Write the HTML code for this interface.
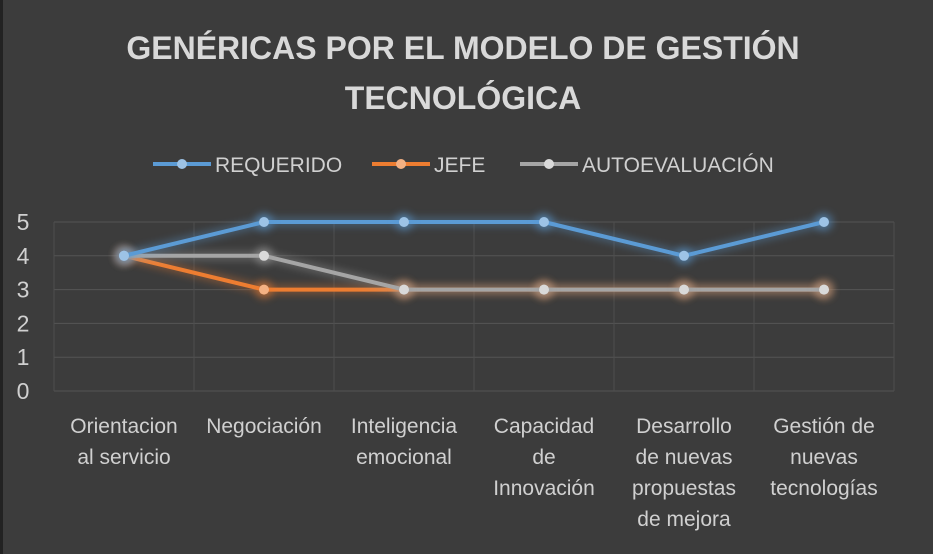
<!DOCTYPE html>
<html><head><meta charset="utf-8"><style>
html,body{margin:0;padding:0;background:#3b3b3b;}
svg{display:block;font-family:"Liberation Sans",sans-serif;}
</style></head><body>
<svg id="chart" width="933" height="554" viewBox="0 0 933 554">
<defs>
<filter id="glow" x="-50%" y="-50%" width="200%" height="200%"><feGaussianBlur stdDeviation="4"/></filter>
</defs>
<rect x="0" y="0" width="933" height="554" fill="#3c3c3c"/>
<rect x="0" y="0" width="3" height="554" fill="#222"/>
<text x="463" y="59" text-anchor="middle" fill="#d9d9d9" font-size="32" font-weight="bold">GENÉRICAS POR EL MODELO DE GESTIÓN</text>
<text x="463" y="109" text-anchor="middle" fill="#d9d9d9" font-size="32" font-weight="bold">TECNOLÓGICA</text>
<g id="legend"></g>
<g id="grid"></g>
<g id="yaxis"></g>
<g id="xaxis"></g>
<g id="series"></g>
</svg>
<script>
const categories=[["Orientacion","al servicio"],["Negociación"],["Inteligencia","emocional"],["Capacidad","de","Innovación"],["Desarrollo","de nuevas","propuestas","de mejora"],["Gestión de","nuevas","tecnologías"]];
const requerido=[4,5,5,5,4,5];
const jefe=[4,3,3,3,3,3];
const autoeval=[4,4,3,3,3,3];
const yTicks=[0,1,2,3,4,5];
const seriesNames=["REQUERIDO","JEFE","AUTOEVALUACIÓN"];

const NS="http://www.w3.org/2000/svg";
const x0=54,x1=894,yTop=222,yBot=391;
const band=(x1-x0)/categories.length;
const xs=i=>x0+band*(i+0.5);
const ys=v=>yBot-(v/5)*(yBot-yTop);
function mk(t,a,p){const e=document.createElementNS(NS,t);for(const k in a)e.setAttribute(k,a[k]);p.appendChild(e);return e;}
const grid=document.getElementById('grid'),ya=document.getElementById('yaxis'),xa=document.getElementById('xaxis'),sg=document.getElementById('series'),lg=document.getElementById('legend');
yTicks.forEach(v=>{
  const l=mk('line',{x1:x0,x2:x1,y1:ys(v),y2:ys(v),stroke:'#555',"stroke-width":1},grid);
  
  
  const t=mk('text',{x:23,y:ys(v)+8,"text-anchor":"middle",fill:'#d0d0d0',"font-size":23},ya);
  t.textContent=v;
  
  
});
for(let i=0;i<=categories.length;i++){
  const l=mk('line',{x1:x0+band*i,x2:x0+band*i,y1:yTop,y2:yBot,stroke:'#4e4e4e',"stroke-width":1},grid);
  
  
}
categories.forEach((lines,i)=>{
  lines.forEach((s,j)=>{
    const t=mk('text',{x:xs(i),y:433+j*31,"text-anchor":"middle",fill:'#d0d0d0',"font-size":21},xa);
    t.textContent=s;
    
    
  });
});
const colors=["#5b9bd5","#ed7d31","#a5a5a5"];
const dotColors=["#9dc3e6","#f4b183","#d9d9d9"];
const data=[requerido,jefe,autoeval];
[1,2,0].forEach(k=>{
  const g=mk('g',{},sg);
  
  
  const pts=data[k].map((v,i)=>xs(i)+','+ys(v)).join(' ');
  mk('polyline',{points:pts,fill:'none',stroke:colors[k],"stroke-width":9,opacity:0.35,filter:'url(#glow)'},g);
  const pl=mk('polyline',{points:pts,fill:'none',stroke:colors[k],"stroke-width":4,"stroke-linejoin":"round"},g);
  
  
  data[k].forEach((v,i)=>{
    mk('circle',{cx:xs(i),cy:ys(v),r:9,fill:colors[k],opacity:0.5,filter:'url(#glow)'},g);
    const c=mk('circle',{cx:xs(i),cy:ys(v),r:5,fill:dotColors[k]},g);
    
    
  });
});
const lx=[153,372,520],lw=[58,58,58];
seriesNames.forEach((n,k)=>{
  const g=mk('g',{},lg);
  
  
  mk('line',{x1:lx[k],x2:lx[k]+lw[k],y1:164,y2:164,stroke:colors[k],"stroke-width":4},g);
  mk('circle',{cx:lx[k]+lw[k]/2,cy:164,r:5,fill:dotColors[k]},g);
  const t=mk('text',{x:lx[k]+lw[k]+4,y:172,fill:'#d0d0d0',"font-size":21},g);
  t.textContent=n;
});
</script>
</body></html>
